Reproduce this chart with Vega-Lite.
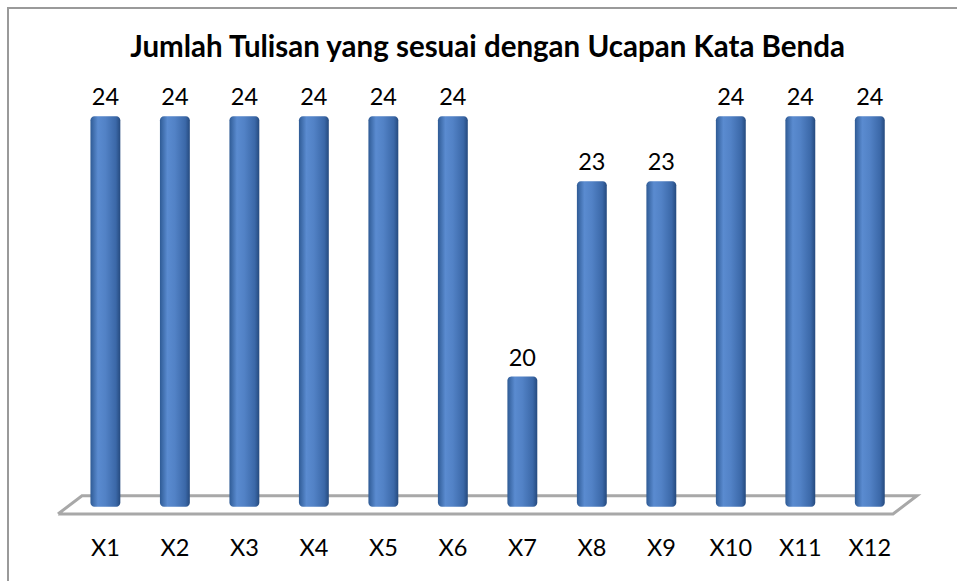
{
  "$schema": "https://vega.github.io/schema/vega-lite/v6.json",
  "width": 959,
  "height": 600,
  "autosize": "none",
  "padding": {"left": 8, "top": 8, "right": 0, "bottom": 0},
  "background": "white",
  "config": {"view": {"stroke": "#9a9a9a", "strokeWidth": 2}, "font": "Lato"},
  "title": {
    "text": "Jumlah Tulisan yang sesuai dengan Ucapan Kata Benda",
    "font": "Lato",
    "fontSize": 29.5,
    "fontWeight": "bold",
    "color": "#000000",
    "anchor": "middle",
    "baseline": "alphabetic",
    "offset": -78
  },
  "datasets": {
    "bars": [
      {"cat": "X1", "value": 24},
      {"cat": "X2", "value": 24},
      {"cat": "X3", "value": 24},
      {"cat": "X4", "value": 24},
      {"cat": "X5", "value": 24},
      {"cat": "X6", "value": 24},
      {"cat": "X7", "value": 20},
      {"cat": "X8", "value": 23},
      {"cat": "X9", "value": 23},
      {"cat": "X10", "value": 24},
      {"cat": "X11", "value": 24},
      {"cat": "X12", "value": 24}
    ],
    "floor": [
      {"i": 0, "fx": 0.324, "fy": 17.89},
      {"i": 1, "fx": 0.669, "fy": 18.17},
      {"i": 2, "fx": 12.675, "fy": 18.17},
      {"i": 3, "fx": 12.33, "fy": 17.89},
      {"i": 4, "fx": 0.324, "fy": 17.89}
    ]
  },
  "layer": [
    {
      "data": {"name": "floor"},
      "mark": {"type": "line", "stroke": "#a8a8a8", "strokeWidth": 3},
      "encoding": {
        "x": {"field": "fx", "type": "quantitative", "scale": {"domain": [-0.3947, 13.394], "nice": false, "zero": false}, "axis": null},
        "y": {"field": "fy", "type": "quantitative", "scale": {"domain": [16.446, 25.662], "nice": false, "zero": false}, "axis": null},
        "order": {"field": "i"}
      }
    },
    {
      "data": {"name": "bars"},
      "encoding": {
        "x": {
          "field": "cat",
          "type": "nominal",
          "sort": null,
          "scale": {"paddingInner": 0.57, "paddingOuter": 0.5, "range": [47.7, 911.5]},
          "axis": {
            "title": null,
            "domain": false,
            "ticks": false,
            "labelAngle": 0,
            "labelFont": "Lato",
            "labelFontSize": 23.5,
            "labelColor": "#000000",
            "labelBaseline": "alphabetic",
            "labelPadding": -53
          }
        }
      },
      "layer": [
        {
          "mark": {
            "type": "bar",
            "cornerRadius": 4,
            "color": {
              "gradient": "linear",
              "x1": 0, "x2": 1, "y1": 0, "y2": 0,
              "stops": [
                {"offset": 0, "color": "#2f5b95"},
                {"offset": 0.25, "color": "#5a8bd0"},
                {"offset": 0.5, "color": "#5282c6"},
                {"offset": 0.85, "color": "#3b68a8"},
                {"offset": 1, "color": "#254a7e"}
              ]
            }
          },
          "encoding": {
            "y": {"field": "value", "type": "quantitative", "scale": {"domain": [16.446, 25.662], "nice": false, "zero": false}, "axis": null},
            "y2": {"datum": 18}
          }
        },
        {
          "mark": {"type": "text", "baseline": "alphabetic", "dy": -11, "fontSize": 23.5, "font": "Lato", "color": "#000000"},
          "encoding": {
            "y": {"field": "value", "type": "quantitative"},
            "text": {"field": "value", "type": "quantitative"}
          }
        }
      ]
    }
  ],
  "resolve": {"scale": {"x": "independent"}}
}
